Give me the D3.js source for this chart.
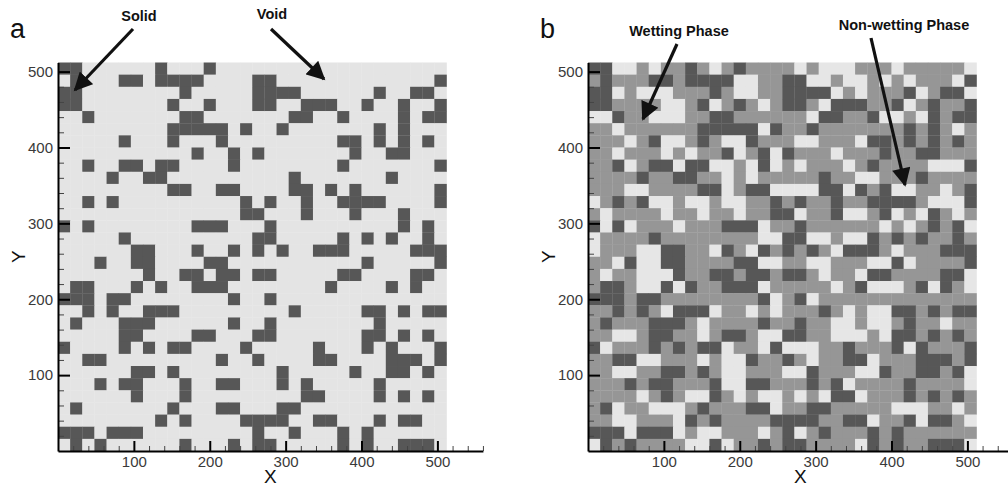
<!DOCTYPE html>
<html>
<head>
<meta charset="utf-8">
<script src="https://cdn.jsdelivr.net/npm/d3@7"></script>
<style>
  body { margin: 0; background: #fff; }
  svg { display: block; }
  text { font-family: "Liberation Sans", Arial, sans-serif; }
</style>
</head>
<body>
<svg width="1008" height="488"></svg>
<script>
'use strict';

// grid of 32 x 32 cells, 16 lattice units each; rows listed from the top (y = 512) down
var cellSize = 16;
var gridSize = 512;
var majorTicks = [100, 200, 300, 400, 500];

// column indices of solid cells in each row (same medium in both panels)
var solidCols = [
  [0, 1, 8, 12],
  [1, 5, 6, 8, 9, 10, 11, 16, 17, 31],
  [0, 1, 10, 16, 17, 18, 19, 26, 29, 30],
  [0, 1, 9, 12, 16, 17, 20, 21, 22, 25, 28, 31],
  [2, 10, 11, 19, 20, 23, 28, 30, 31],
  [9, 10, 11, 12, 13, 15, 18, 26, 28],
  [5, 9, 13, 23, 24, 26, 28, 30],
  [11, 14, 16, 24, 27, 28],
  [2, 5, 6, 8, 9, 14, 23, 31],
  [4, 7, 8, 19, 27],
  [9, 10, 13, 14, 19, 20, 22, 24, 31],
  [2, 4, 15, 17, 20, 23, 24, 25, 26, 31],
  [15, 16, 20, 24, 28],
  [0, 2, 11, 12, 13, 17, 28, 30],
  [5, 16, 17, 23, 25, 27, 30],
  [6, 7, 11, 14, 16, 18, 21, 22, 23, 29, 30, 31],
  [3, 6, 7, 12, 13, 25, 31],
  [7, 10, 11, 13, 14, 16, 17, 23, 24, 29, 30],
  [1, 2, 6, 8, 11, 12, 13, 22, 27, 29],
  [0, 1, 2, 4, 5, 14, 17],
  [2, 4, 7, 8, 9, 19, 25, 26, 28, 30, 31],
  [1, 5, 6, 7, 14, 17, 26],
  [5, 6, 11, 12, 16, 17, 25, 26, 28, 30],
  [0, 5, 7, 9, 10, 15, 21, 25, 27, 31],
  [2, 3, 13, 16, 21, 22, 27, 28, 29, 31],
  [6, 7, 9, 18, 24, 27, 28, 30],
  [3, 5, 6, 10, 13, 14, 18, 20, 26],
  [6, 10, 20, 21, 26, 28, 30],
  [1, 9, 13, 14, 18, 19],
  [8, 10, 15, 16, 17, 18, 21, 22, 26, 28, 29],
  [0, 1, 2, 4, 5, 6, 16, 19, 23, 25],
  [1, 3, 10, 14, 16, 17, 23, 25, 28, 29, 30]
];

// column indices of non-wetting cells in each row (panel b), the rest of the void is wetting phase
var nonWettingCols = [
  [2, 3, 5, 10, 17, 19, 20, 21, 25, 31],
  [12, 13, 18, 19, 21, 22, 24, 26, 30],
  [2, 4, 5, 6, 12, 13, 20, 22, 27, 31],
  [6, 7, 10, 14, 19, 26],
  [0, 1, 5, 6, 7, 18, 24, 25, 27],
  [2, 14, 30],
  [3, 6, 7, 11, 12, 17, 18, 22],
  [2, 6, 8, 12, 15, 20],
  [3, 7, 10, 11, 13, 15, 17, 21, 28, 29, 30],
  [11, 13, 22, 23],
  [3, 4, 11, 15, 16, 17, 18, 21, 25, 26, 29],
  [0, 5, 6, 8, 9, 11, 12, 28, 29, 30],
  [1, 6, 9, 12, 17, 21, 22, 25, 27, 30],
  [1, 3, 7, 14, 24, 26, 31],
  [0, 14, 15, 18, 19, 21, 22],
  [0, 4, 5, 10, 13, 20, 25],
  [2, 4, 5, 14, 15, 18, 19, 23, 24, 26],
  [1, 4, 5, 6, 19, 22, 31],
  [4, 5, 7, 14, 20, 23, 24, 25, 28, 31],
  [15, 18],
  [6, 10, 13, 15, 21, 23, 24],
  [9, 20, 21, 23, 24, 29],
  [2, 3, 9, 14, 15, 20, 21, 22, 24],
  [1, 11, 14, 16, 17, 18, 26],
  [4, 5, 9, 11, 12, 18, 23],
  [2, 3, 11, 12, 16, 17, 22, 23, 31],
  [11, 12, 21, 31],
  [4, 8, 9, 12, 14, 15, 17, 19, 22],
  [2, 5, 6, 7, 15, 25, 26, 27, 30],
  [2, 3, 7, 23, 27, 31],
  [3, 7, 9, 10, 14, 17],
  [0, 8, 9, 11, 22, 31]
];

var colors = {solid: '#575757', void: '#e4e4e4', wetting: '#969696', nonWetting: '#e6e6e6'};

var panels = [
  {name: 'a', left: 58, phases: false,
   notes: [{text: 'Solid', x: 139, y: 21, from: [133, 29], to: [75, 90]},
           {text: 'Void', x: 272, y: 19, from: [271, 29], to: [324, 79]}]},
  {name: 'b', left: 588, phases: true,
   notes: [{text: 'Wetting Phase', x: 679, y: 36, from: [677, 44], to: [643, 119]},
           {text: 'Non-wetting Phase', x: 904, y: 30, from: [871, 38], to: [905, 185]}]}
];

var gridTop = 62.5, gridBottom = 451;
var unit = (gridBottom - gridTop) / gridSize;

var svg = d3.select('svg');

var defs = svg.append('defs');
defs.append('marker')
  .attr('id', 'head')
  .attr('viewBox', '0 0 10 10')
  .attr('refX', 9).attr('refY', 5)
  .attr('markerWidth', 6).attr('markerHeight', 5.8)
  .attr('markerUnits', 'strokeWidth')
  .attr('orient', 'auto')
  .append('path')
  .attr('d', 'M0,0L10,5L0,10Z')
  .attr('fill', '#111');

panels.forEach(function(p) {
  var x = d3.scaleLinear().domain([0, 560]).range([p.left, p.left + 560 * unit]);
  var y = d3.scaleLinear().domain([0, gridSize]).range([gridBottom, gridTop]);

  // build the cell list from the data arrays
  var cells = [];
  solidCols.forEach(function(row, r) {
    for (var c = 0; c < gridSize / cellSize; c++) {
      var kind;
      if (row.indexOf(c) >= 0) kind = 'solid';
      else if (!p.phases) kind = 'void';
      else kind = nonWettingCols[r].indexOf(c) >= 0 ? 'nonWetting' : 'wetting';
      cells.push({row: r, col: c, kind: kind});
    }
  });

  var g = svg.append('g');
  g.selectAll('rect')
    .data(cells)
    .enter().append('rect')
    .attr('x', function(d) { return x(d.col * cellSize); })
    .attr('y', function(d) { return y(gridSize - d.row * cellSize); })
    .attr('width', x(cellSize) - x(0) + 0.3)
    .attr('height', y(0) - y(cellSize) + 0.3)
    .attr('fill', function(d) { return colors[d.kind]; });

  // minor ticks
  var minorX = d3.range(20, 561, 20).filter(function(v) { return v % 100; });
  var minorY = d3.range(20, 512, 20).filter(function(v) { return v % 100; });

  var gxMinor = svg.append('g').attr('transform', 'translate(0,' + gridBottom + ')')
    .call(d3.axisBottom(x).tickValues(minorX).tickSize(-5).tickFormat(''));
  var gyMinor = svg.append('g').attr('transform', 'translate(' + p.left + ',0)')
    .call(d3.axisLeft(y).tickValues(minorY).tickSize(-6).tickFormat(''));
  [gxMinor, gyMinor].forEach(function(a) {
    a.select('.domain').remove();
    a.selectAll('line').attr('stroke', '#444').attr('stroke-width', 1);
  });

  // major ticks with labels
  var gx = svg.append('g').attr('transform', 'translate(0,' + gridBottom + ')')
    .call(d3.axisBottom(x).tickValues(majorTicks).tickSize(-10).tickSizeOuter(0).tickPadding(5));
  var gy = svg.append('g').attr('transform', 'translate(' + p.left + ',0)')
    .call(d3.axisLeft(y).tickValues(majorTicks).tickSize(-12).tickSizeOuter(0).tickPadding(5));
  [gx, gy].forEach(function(a) {
    a.select('.domain').attr('stroke', '#000').attr('stroke-width', 2);
    a.selectAll('line').attr('stroke', '#000').attr('stroke-width', 2);
    a.selectAll('text').attr('font-size', 15).attr('fill', '#3a3a3a')
      .attr('font-family', '"Liberation Sans", Arial, sans-serif');
  });

  // axis titles
  svg.append('text')
    .attr('x', (x(0) + x(560)) / 2).attr('y', 483)
    .attr('text-anchor', 'middle').attr('font-size', 19).attr('fill', '#111')
    .text('X');
  svg.append('text')
    .attr('transform', 'translate(' + (p.left - 33) + ',' + (gridTop + gridBottom) / 2 + ') rotate(-90)')
    .attr('text-anchor', 'middle').attr('font-size', 19).attr('fill', '#111')
    .text('Y');

  // panel letter
  svg.append('text')
    .attr('x', p.left - 48).attr('y', 38)
    .attr('font-size', 27).attr('fill', '#111')
    .text(p.name);

  // annotations
  p.notes.forEach(function(n) {
    svg.append('text')
      .attr('x', n.x).attr('y', n.y)
      .attr('text-anchor', 'middle').attr('font-size', 14.5).attr('font-weight', 'bold')
      .attr('fill', '#111')
      .text(n.text);
    svg.append('line')
      .attr('x1', n.from[0]).attr('y1', n.from[1])
      .attr('x2', n.to[0]).attr('y2', n.to[1])
      .attr('stroke', '#111').attr('stroke-width', 3.2)
      .attr('marker-end', 'url(#head)');
  });
});
</script>
</body>
</html>
